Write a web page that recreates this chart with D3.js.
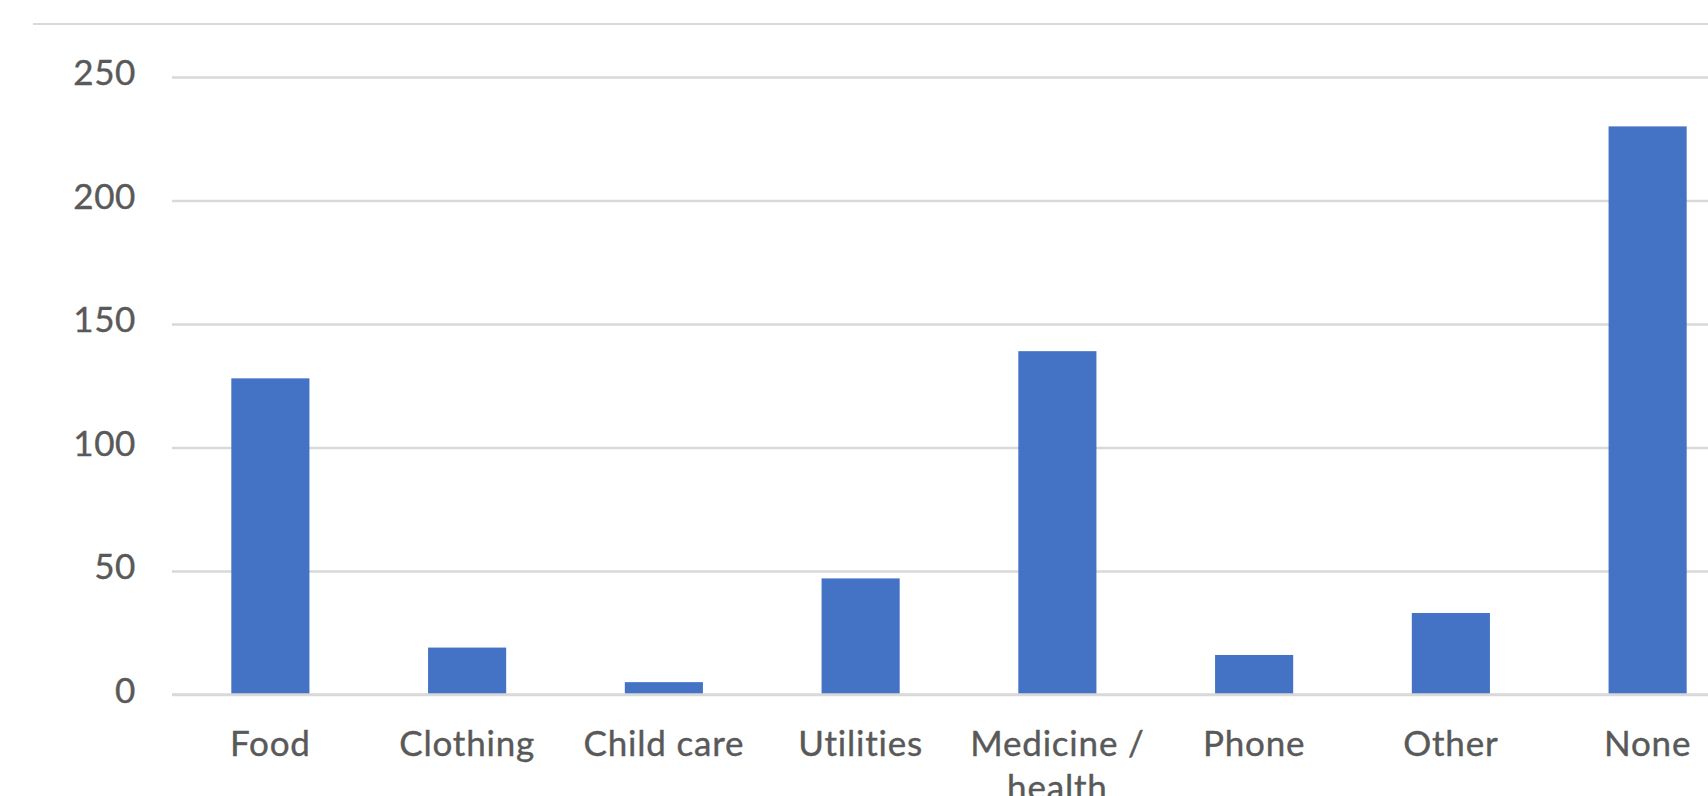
<!DOCTYPE html>
<html>
<head>
<meta charset="utf-8">
<script src="https://cdn.jsdelivr.net/npm/d3@7"></script>
<style>
    body { margin: 0; background: #ffffff; }
    text { font-family: Lato, "Open Sans", sans-serif; fill: #595959; }
</style>
</head>
<body>
<div id="chart"></div>
<script>
// Chart data
var categories = ["Food", "Clothing", "Child care", "Utilities", "Medicine / health", "Phone", "Other", "None"];
var values = [128, 19, 5, 47, 139, 16, 33, 230];
var yTicks = [0, 50, 100, 150, 200, 250];

var svgWidth = 1708;
var svgHeight = 796;

var margin = {
    top: 77,
    left: 172
};

// plot runs past the right edge, like the cropped original
var width = 1574;
var height = 694.5 - margin.top;

var svg = d3
.select("#chart")
.append("svg")
.attr("width", svgWidth)
.attr("height", svgHeight);

// thin border line along the top of the chart area
svg.append("line")
    .attr("x1", 33)
    .attr("x2", svgWidth)
    .attr("y1", 24)
    .attr("y2", 24)
    .attr("stroke", "#d9d9d9")
    .attr("stroke-width", 2);

var chartGroup = svg
.append("g")
.attr("transform", `translate(${margin.left}, ${margin.top})`);

// scales
var xBandScale = d3
.scaleBand()
.domain(categories)
.range([0, width])
.paddingInner(0.603)
.paddingOuter(0.3015);

var yLinearScale = d3
.scaleLinear()
.domain([0, 250])
.range([height, 0]);

// gridlines
var leftAxis = d3.axisLeft(yLinearScale)
    .tickValues(yTicks)
    .tickSize(-width)
    .tickPadding(36)
    .tickFormat(d3.format("d"));

var yAxis = chartGroup.append("g")
    .call(leftAxis);

yAxis.select(".domain").remove();
yAxis.selectAll(".tick line")
    .attr("stroke", "#d9d9d9")
    .attr("stroke-width", 2.5);
yAxis.selectAll(".tick text")
    .attr("font-size", 35)
    .attr("font-family", "Lato, 'Open Sans', sans-serif")
    .attr("fill", "#595959")
    .attr("stroke", "#595959")
    .attr("stroke-width", 0.4)
    .attr("letter-spacing", 0.6)
    .attr("dy", "0.22em");

// bars
chartGroup.append("g")
    .selectAll("rect")
    .data(values)
    .enter()
    .append("rect")
    .attr("x", (d, i) => xBandScale(categories[i]))
    .attr("y", d => yLinearScale(d))
    .attr("width", xBandScale.bandwidth())
    .attr("height", d => height - yLinearScale(d))
    .attr("fill", "#4472c4");

// baseline over the bars
chartGroup.append("line")
    .attr("x1", 0)
    .attr("x2", width)
    .attr("y1", height)
    .attr("y2", height)
    .attr("stroke", "#d9d9d9")
    .attr("stroke-width", 2.5);

// category labels, "Medicine / health" wraps onto two lines
var bottomAxis = d3.axisBottom(xBandScale).tickSize(0).tickFormat("");
var xAxis = chartGroup.append("g")
    .attr("transform", `translate(0, ${height})`)
    .call(bottomAxis);
xAxis.select(".domain").remove();

xAxis.selectAll(".tick")
    .append("text")
    .attr("text-anchor", "middle")
    .attr("font-size", 35)
    .attr("letter-spacing", 0.8)
    .attr("stroke", "#595959")
    .attr("stroke-width", 0.4)
    .attr("y", 61)
    .each(function(d) {
        var lines = d == "Medicine / health" ? ["Medicine /", "health"] : [d];
        var t = d3.select(this);
        lines.forEach((line, i) => {
            t.append("tspan")
                .attr("x", 0)
                .attr("dy", i == 0 ? 0 : 44)
                .text(line);
        });
    });
</script>
</body>
</html>
